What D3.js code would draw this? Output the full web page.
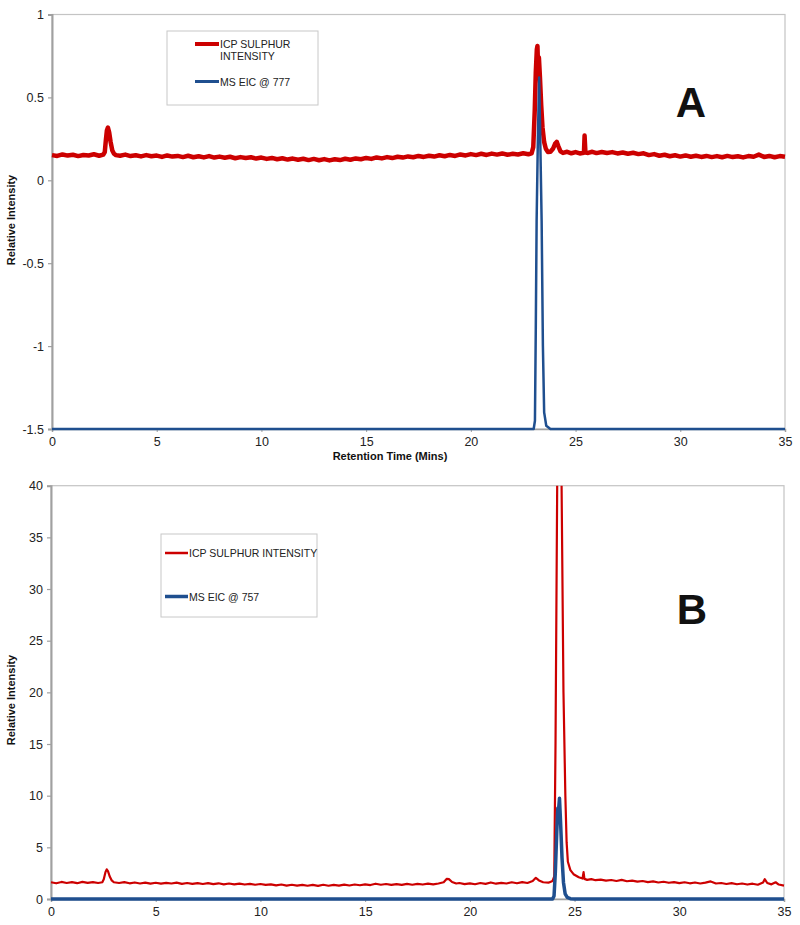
<!DOCTYPE html>
<html lang="en">
<head>
    <meta charset="UTF-8">
    <title>ICP / MS chromatograms</title>
    <script src="https://d3js.org/d3.v7.min.js"></script>
    <style>
        body {
            margin: 0;
            padding: 0;
            background-color: #ffffff;
            font-family: "Liberation Sans", Arial, sans-serif;
        }

        .tick text {
            font-size: 12.5px;
            fill: #222;
        }

        .axis-label {
            font-size: 11px;
            font-weight: bold;
            text-anchor: middle;
            fill: #111;
        }

        .legend-text {
            font-size: 10.5px;
            fill: #222;
        }

        .panel-letter {
            font-size: 42px;
            font-weight: bold;
            text-anchor: middle;
            fill: #111;
        }
    </style>
</head>
<body>
    <div id="chart"></div>
    <script>
        const width = 800;
        const height = 925;

        // Shared x ticks (retention time, minutes)
        const timeTicks = [0, 5, 10, 15, 20, 25, 30, 35];

        // Panel A: y ticks and series, [time, value]
        const ticksA = [-1.5, -1, -0.5, 0, 0.5, 1];
        const icpA = [
            [0, 0.152], [0.25, 0.147], [0.5, 0.156], [0.75, 0.149], [1.0, 0.154], [1.25, 0.146],
            [1.5, 0.153], [1.75, 0.150], [2.0, 0.157], [2.25, 0.148], [2.45, 0.155],
            [2.52, 0.17], [2.57, 0.24], [2.62, 0.30], [2.67, 0.318], [2.73, 0.29], [2.8, 0.23],
            [2.88, 0.18], [2.96, 0.16], [3.05, 0.152], [3.25, 0.148], [3.5, 0.155], [3.75, 0.146],
            [4.0, 0.151], [4.25, 0.144], [4.5, 0.152], [4.75, 0.145], [5.0, 0.149], [5.25, 0.141],
            [5.5, 0.150], [5.75, 0.143], [6.0, 0.147], [6.25, 0.140], [6.5, 0.148], [6.75, 0.139],
            [7.0, 0.145], [7.25, 0.138], [7.5, 0.146], [7.75, 0.137], [8.0, 0.143], [8.25, 0.136],
            [8.5, 0.142], [8.75, 0.133], [9.0, 0.140], [9.25, 0.134], [9.5, 0.139], [9.75, 0.131],
            [10.0, 0.137], [10.25, 0.129], [10.5, 0.135], [10.75, 0.127], [11.0, 0.133], [11.25, 0.125],
            [11.5, 0.131], [11.75, 0.124], [12.0, 0.130], [12.25, 0.122], [12.5, 0.129], [12.75, 0.121],
            [13.0, 0.128], [13.25, 0.120], [13.5, 0.127], [13.75, 0.122], [14.0, 0.130], [14.25, 0.124],
            [14.5, 0.132], [14.75, 0.127], [15.0, 0.135], [15.25, 0.129], [15.5, 0.138], [15.75, 0.132],
            [16.0, 0.140], [16.25, 0.134], [16.5, 0.142], [16.75, 0.137], [17.0, 0.144], [17.25, 0.139],
            [17.5, 0.147], [17.75, 0.141], [18.0, 0.148], [18.25, 0.143], [18.5, 0.151], [18.75, 0.145],
            [19.0, 0.153], [19.25, 0.147], [19.5, 0.156], [19.75, 0.150], [20.0, 0.158], [20.25, 0.152],
            [20.5, 0.160], [20.75, 0.153], [21.0, 0.161], [21.25, 0.155], [21.5, 0.162], [21.75, 0.154],
            [22.0, 0.160], [22.25, 0.156], [22.5, 0.163], [22.75, 0.157], [22.9, 0.162],
            [22.98, 0.20], [23.05, 0.42], [23.1, 0.65], [23.15, 0.79], [23.18, 0.81], [23.21, 0.68],
            [23.25, 0.74], [23.3, 0.62], [23.36, 0.45], [23.42, 0.32], [23.5, 0.23], [23.58, 0.19],
            [23.68, 0.17], [23.8, 0.172], [23.92, 0.19], [24.02, 0.22], [24.1, 0.232], [24.18, 0.205],
            [24.28, 0.175], [24.4, 0.165], [24.6, 0.172], [24.8, 0.163], [25.0, 0.170], [25.2, 0.162],
            [25.4, 0.166], [25.43, 0.27], [25.47, 0.168], [25.6, 0.165], [25.8, 0.172], [26.0, 0.164],
            [26.25, 0.171], [26.5, 0.165], [26.75, 0.170], [27.0, 0.162], [27.25, 0.168], [27.5, 0.160],
            [27.75, 0.166], [28.0, 0.158], [28.25, 0.163], [28.5, 0.152], [28.75, 0.158], [29.0, 0.148],
            [29.25, 0.154], [29.5, 0.145], [29.75, 0.151], [30.0, 0.143], [30.25, 0.150], [30.5, 0.142],
            [30.75, 0.148], [31.0, 0.141], [31.25, 0.147], [31.5, 0.140], [31.75, 0.146], [32.0, 0.139],
            [32.25, 0.147], [32.5, 0.140], [32.75, 0.145], [33.0, 0.138], [33.25, 0.146], [33.5, 0.142],
            [33.75, 0.155], [34.0, 0.141], [34.25, 0.147], [34.5, 0.139], [34.75, 0.146], [35, 0.142]
        ];
        const msA = [
            [0, -1.5], [23.0, -1.5], [23.06, -1.45], [23.1, -0.9], [23.14, -0.25], [23.2, 0.25],
            [23.26, 0.62], [23.3, 0.35], [23.38, -0.25], [23.44, -1.0], [23.5, -1.4], [23.6, -1.48],
            [23.8, -1.5], [35, -1.5]
        ];

        // Panel B
        const ticksB = [0, 5, 10, 15, 20, 25, 30, 35, 40];
        const icpB = [
            [0, 1.62], [0.25, 1.52], [0.5, 1.65], [0.75, 1.55], [1.0, 1.63], [1.25, 1.53], [1.5, 1.66],
            [1.75, 1.56], [2.0, 1.64], [2.25, 1.55], [2.45, 1.62], [2.52, 1.9], [2.6, 2.6], [2.66, 2.87],
            [2.72, 2.7], [2.8, 2.2], [2.9, 1.8], [3.0, 1.62], [3.25, 1.55], [3.5, 1.63], [3.75, 1.52],
            [4.0, 1.60], [4.25, 1.50], [4.5, 1.58], [4.75, 1.49], [5.0, 1.57], [5.25, 1.48], [5.5, 1.56],
            [5.75, 1.50], [6.0, 1.58], [6.25, 1.47], [6.5, 1.55], [6.75, 1.46], [7.0, 1.54], [7.25, 1.45],
            [7.5, 1.53], [7.75, 1.44], [8.0, 1.52], [8.25, 1.42], [8.5, 1.50], [8.75, 1.41], [9.0, 1.49],
            [9.25, 1.40], [9.5, 1.47], [9.75, 1.38], [10.0, 1.45], [10.25, 1.36], [10.5, 1.42], [10.75, 1.32],
            [11.0, 1.40], [11.25, 1.30], [11.5, 1.38], [11.75, 1.29], [12.0, 1.37], [12.25, 1.28], [12.5, 1.36],
            [12.75, 1.27], [13.0, 1.38], [13.25, 1.28], [13.5, 1.37], [13.75, 1.30], [14.0, 1.39], [14.25, 1.31],
            [14.5, 1.40], [14.75, 1.33], [15.0, 1.42], [15.25, 1.35], [15.5, 1.48], [15.75, 1.38], [16.0, 1.45],
            [16.25, 1.36], [16.5, 1.44], [16.75, 1.37], [17.0, 1.46], [17.25, 1.38], [17.5, 1.47], [17.75, 1.40],
            [18.0, 1.48], [18.25, 1.41], [18.5, 1.50], [18.75, 1.62], [18.9, 1.95], [19.0, 1.92], [19.15, 1.65],
            [19.35, 1.50], [19.5, 1.55], [19.75, 1.44], [20.0, 1.52], [20.25, 1.43], [20.5, 1.55], [20.75, 1.47],
            [21.0, 1.60], [21.25, 1.48], [21.5, 1.56], [21.75, 1.50], [22.0, 1.62], [22.25, 1.52], [22.5, 1.64],
            [22.75, 1.55], [23.0, 1.75], [23.15, 2.05], [23.3, 1.80], [23.5, 1.62], [23.75, 1.58], [23.95, 1.75],
            [24.03, 2.2], [24.09, 15], [24.17, 40], [24.27, 58], [24.38, 40], [24.47, 20], [24.56, 10],
            [24.62, 5.5], [24.68, 3.6], [24.8, 2.8], [24.95, 2.4], [25.2, 2.1], [25.38, 1.98], [25.43, 2.6],
            [25.47, 1.95], [25.6, 1.85], [25.8, 1.92], [26.0, 1.82], [26.25, 1.88], [26.5, 1.78], [26.75, 1.84],
            [27.0, 1.74], [27.25, 1.85], [27.5, 1.72], [27.75, 1.78], [28.0, 1.68], [28.25, 1.74], [28.5, 1.64],
            [28.75, 1.70], [29.0, 1.60], [29.25, 1.67], [29.5, 1.57], [29.75, 1.63], [30.0, 1.54], [30.25, 1.62],
            [30.5, 1.52], [30.75, 1.60], [31.0, 1.50], [31.25, 1.58], [31.5, 1.70], [31.75, 1.50], [32.0, 1.55],
            [32.25, 1.45], [32.5, 1.53], [32.75, 1.43], [33.0, 1.50], [33.25, 1.40], [33.5, 1.48], [33.75, 1.38],
            [34.0, 1.60], [34.08, 1.92], [34.2, 1.55], [34.4, 1.42], [34.6, 1.62], [34.75, 1.40], [35, 1.30]
        ];
        const msB = [
            [0, 0], [23.95, 0], [24.02, 0.3], [24.08, 2.5], [24.15, 6.5], [24.2, 8.8], [24.23, 8.5],
            [24.28, 9.75], [24.33, 7.5], [24.4, 4], [24.47, 1.6], [24.55, 0.5], [24.65, 0.15],
            [24.8, 0.03], [25, 0], [35, 0]
        ];

        const red = "#cc0000";
        const blue = "#1f4f8f";

        const svg = d3.select("#chart")
            .append("svg")
            .attr("width", width)
            .attr("height", height);

        function drawPanel(cfg) {
            const x = d3.scaleLinear().domain([0, 35]).range([cfg.left, cfg.right]);
            const y = d3.scaleLinear().domain(cfg.yDomain).range([cfg.bottom, cfg.top]);

            const g = svg.append("g");
            const clipId = "clip-" + cfg.letter;

            g.append("clipPath").attr("id", clipId)
                .append("rect")
                .attr("x", cfg.left - 3).attr("y", cfg.top)
                .attr("width", cfg.right - cfg.left + 6).attr("height", cfg.bottom - cfg.top + 4);

            // frame (top and right, light grey)
            g.append("rect")
                .attr("x", cfg.left).attr("y", cfg.top)
                .attr("width", cfg.right - cfg.left).attr("height", cfg.bottom - cfg.top)
                .attr("fill", "none").attr("stroke", "#c4c4c4").attr("stroke-width", 1.2);

            // y axis (plain hyphen for negatives, like the original)
            const yAxis = g.append("g")
                .attr("transform", `translate(${cfg.left},0)`)
                .call(d3.axisLeft(y).tickValues(cfg.yTicks).tickSize(4).tickPadding(4).tickFormat(d => String(d)));
            yAxis.select(".domain").attr("stroke", "#a0a0a0").attr("stroke-width", 2);
            yAxis.selectAll(".tick line").attr("stroke", "#a0a0a0").attr("stroke-width", 1.2);
            yAxis.selectAll("text").style("font-family", "'Liberation Sans', Arial, sans-serif");

            // x axis
            const xAxis = g.append("g")
                .attr("transform", `translate(0,${cfg.bottom})`)
                .call(d3.axisBottom(x).tickValues(timeTicks).tickSize(3).tickPadding(5).tickFormat(d => String(d)));
            xAxis.select(".domain").attr("stroke", "#a0a0a0").attr("stroke-width", 1.5);
            xAxis.selectAll(".tick line").attr("stroke", "#a0a0a0");
            xAxis.selectAll("text").style("font-family", "'Liberation Sans', Arial, sans-serif");

            const line = d3.line().x(d => x(d[0])).y(d => y(d[1]));

            const series = g.append("g").attr("clip-path", `url(#${clipId})`);
            series.append("path")
                .datum(cfg.icp)
                .attr("d", line)
                .attr("fill", "none")
                .attr("stroke", red)
                .attr("stroke-width", cfg.icpWidth)
                .attr("stroke-linejoin", "round");
            series.append("path")
                .datum(cfg.ms)
                .attr("d", line)
                .attr("fill", "none")
                .attr("stroke", blue)
                .attr("stroke-width", cfg.msWidth)
                .attr("stroke-linejoin", "round");

            // y axis title
            g.append("text")
                .attr("class", "axis-label")
                .attr("transform", `translate(15,${cfg.yLabelY}) rotate(-90)`)
                .text("Relative Intensity");

            // legend
            const lg = g.append("g");
            lg.append("rect")
                .attr("x", cfg.legend.x).attr("y", cfg.legend.y)
                .attr("width", cfg.legend.w).attr("height", cfg.legend.h)
                .attr("fill", "#fff").attr("stroke", "#c8c8c8");
            cfg.legend.items.forEach(item => {
                lg.append("line")
                    .attr("x1", item.x1).attr("x2", item.x2)
                    .attr("y1", item.y).attr("y2", item.y)
                    .attr("stroke", item.color).attr("stroke-width", item.width);
                const t = lg.append("text")
                    .attr("class", "legend-text")
                    .attr("x", item.x2 + 1).attr("y", item.y + 4);
                item.lines.forEach((s, i) => {
                    t.append("tspan").attr("x", item.x2 + 1).attr("dy", i === 0 ? 0 : 12).text(s);
                });
            });

            // panel letter
            g.append("text")
                .attr("class", "panel-letter")
                .attr("x", cfg.letterX).attr("y", cfg.letterY)
                .text(cfg.letter);

            return { x, y };
        }

        drawPanel({
            letter: "A", left: 52, right: 785, top: 14.5, bottom: 429,
            yDomain: [-1.5, 1], yTicks: ticksA,
            icp: icpA, ms: msA, icpWidth: 4.5, msWidth: 2.5,
            yLabelY: 220, letterX: 691, letterY: 117,
            legend: {
                x: 167, y: 31, w: 151, h: 74,
                items: [
                    { x1: 195, x2: 219, y: 44, color: red, width: 4, lines: ["ICP SULPHUR", "INTENSITY"] },
                    { x1: 195, x2: 219, y: 81.5, color: blue, width: 3, lines: ["MS EIC @ 777"] }
                ]
            }
        });

        // x axis title for panel A
        svg.append("text")
            .attr("class", "axis-label")
            .attr("x", 390).attr("y", 460)
            .text("Retention Time (Mins)");

        drawPanel({
            letter: "B", left: 51, right: 784, top: 485.7, bottom: 899,
            yDomain: [0, 40], yTicks: ticksB,
            icp: icpB, ms: msB, icpWidth: 2.2, msWidth: 3.5,
            yLabelY: 700, letterX: 692, letterY: 624,
            legend: {
                x: 161, y: 534, w: 156, h: 83,
                items: [
                    { x1: 165, x2: 188, y: 553, color: red, width: 2.5, lines: ["ICP SULPHUR INTENSITY"] },
                    { x1: 165, x2: 188, y: 596.5, color: blue, width: 3.5, lines: ["MS EIC @ 757"] }
                ]
            }
        });
    </script>
</body>
</html>
